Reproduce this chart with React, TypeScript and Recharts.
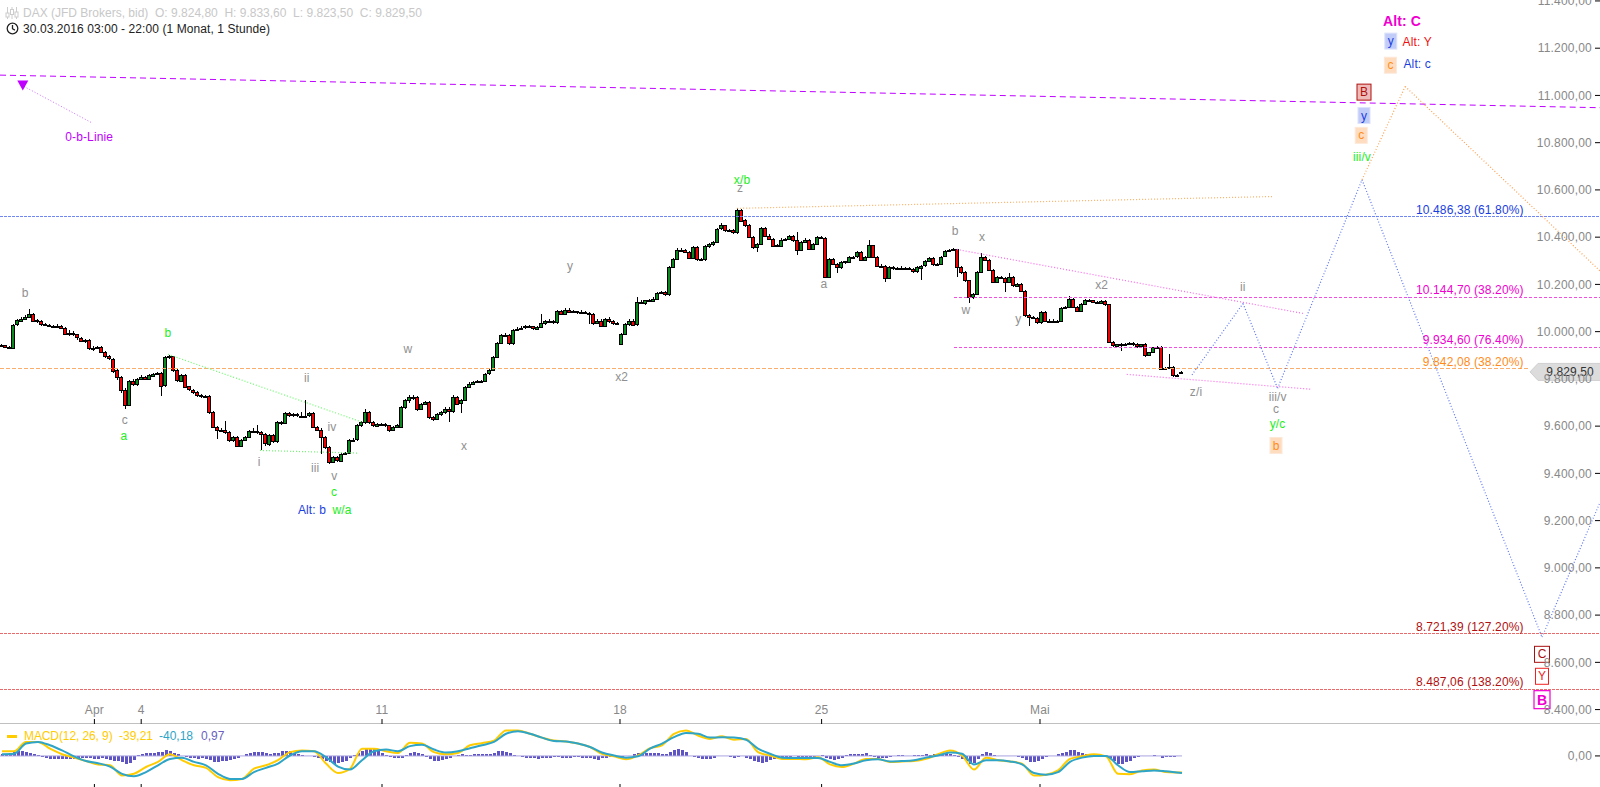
import { Bar, ComposedChart, Line, ReferenceDot, ReferenceLine, XAxis, YAxis } from "recharts";

// hourly candles, one slot = 4px of the 400 slot wide time axis
const opens = [
  9945,9942,9935,9930,10029,10048,10055,10064,10076,
  10048,10045,10033,10028,10025,10022,10026,10016,9991,9994,
  9988,9974,9963,9963,9928,9932,9936,9913,9895,9885,
  9836,9808,9754,9692,9793,9779,9800,9808,9800,9815,
  9822,9825,9772,9892,9895,9836,9793,9818,9768,9754,
  9744,9730,9726,9727,9660,9596,9582,9582,9575,9540,
  9554,9518,9542,9554,9579,9578,9575,9565,9525,9561,
  9537,9617,9613,9655,9645,9650,9645,9642,9645,9655,
  9596,9585,9554,9511,9448,9469,9455,9483,9486,9540,
  9542,9603,9617,9660,9617,9603,9610,9607,9603,9582,9596,
  9596,9681,9709,9723,9723,9673,9695,9702,9638,9631,
  9652,9659,9673,9664,9723,9695,9709,9765,9779,9786,
  9791,9791,9822,9836,9892,9951,9984,9984,9951,10008,
  10012,10016,10022,10022,10012,10019,10036,10045,10045,10040,
  10087,10076,10093,10086,10086,10080,10083,10080,10076,10040,
  10047,10026,10054,10045,10036,9949,9991,10033,10047,10030,
  10125,10121,10132,10132,10139,10163,10167,10158,10273,10308,
  10347,10344,10337,10313,10358,10308,10304,10361,10369,10379,
  10436,10450,10428,10431,10421,10516,10471,10450,10400,10358,
  10372,10440,10407,10393,10365,10365,10390,10393,10404,10386,
  10344,10379,10389,10351,10372,10400,10397,10231,10309,10287,
  10273,10294,10297,10318,10318,10337,10304,10316,10365,10316,
  10280,10280,10228,10273,10269,10269,10269,10269,10266,10256,
  10273,10280,10299,10313,10287,10287,10318,10341,10344,10348,
  10273,10252,10217,10146,10160,10252,10316,10304,10262,10210,
  10231,10227,10210,10231,10196,10203,10172,10069,10062,10059,
  10040,10083,10045,10047,10047,10045,10101,10104,10139,10104,
  10087,10118,10135,10132,10125,10121,10129,10115,9956,9942,
  9949,9946,9949,9952,9946,9939,9946,9899,9913,9935,
  9935,9843,9846,9850,9815,9824.8,
];
const highs = [
  9948,9945,9938,10032,10055,10062,10072,10097,10080,
  10055,10048,10036,10032,10030,10032,10030,10020,10005,10002,
  9992,9978,9970,9968,9938,9941,9940,9916,9900,9890,
  9840,9812,9760,9795,9798,9803,9815,9812,9820,9826,
  9830,9830,9895,9900,9898,9840,9822,9822,9772,9758,
  9748,9734,9732,9730,9664,9600,9592,9620,9580,9558,
  9558,9545,9558,9582,9590,9606,9580,9570,9568,9565,
  9620,9622,9658,9660,9655,9655,9660,9709,9660,9660,
  9600,9590,9558,9515,9472,9474,9487,9490,9545,9548,
  9608,9622,9674,9662,9622,9615,9614,9612,9606,9600,9610,
  9685,9715,9730,9730,9726,9700,9708,9708,9642,9656,
  9665,9680,9680,9730,9728,9715,9770,9785,9792,9795,
  9796,9826,9840,9896,9955,9990,9995,9988,10012,10020,
  10025,10028,10028,10024,10024,10076,10050,10052,10050,10092,
  10092,10098,10098,10092,10088,10090,10086,10084,10078,10055,
  10052,10058,10060,10050,10040,9995,10038,10055,10052,10146,
  10135,10136,10140,10146,10168,10172,10172,10278,10312,10352,
  10352,10348,10340,10362,10362,10312,10365,10374,10385,10440,
  10458,10452,10436,10434,10522,10520,10475,10455,10404,10376,
  10445,10444,10412,10398,10370,10395,10397,10408,10408,10421,
  10385,10395,10392,10376,10404,10404,10400,10312,10312,10292,
  10298,10300,10322,10322,10342,10340,10320,10386,10368,10320,
  10285,10284,10276,10278,10274,10278,10272,10272,10270,10276,
  10284,10304,10318,10316,10292,10322,10345,10348,10352,10350,
  10276,10256,10220,10165,10256,10333,10320,10308,10266,10235,
  10236,10232,10248,10235,10208,10208,10175,10074,10068,10063,
  10088,10086,10052,10052,10050,10104,10108,10153,10142,10110,
  10122,10140,10140,10136,10130,10132,10133,10118,9960,9948,
  9954,9952,9955,9956,9950,9949,9950,9905,9918,9940,
  9938,9850,9906,9854,9820,9833.6,
];
const lows = [
  9938,9930,9926,9932,10024,10040,10048,10060,10040,
  10036,10025,10022,10018,10016,10018,10010,9985,9982,9980,
  9965,9955,9952,9922,9918,9928,9908,9890,9878,9826,
  9795,9740,9674,9685,9770,9770,9795,9795,9795,9812,
  9818,9727,9765,9885,9830,9785,9785,9760,9748,9738,
  9725,9720,9720,9652,9590,9547,9575,9568,9532,9532,
  9510,9512,9538,9550,9570,9568,9497,9518,9518,9530,
  9530,9606,9608,9640,9640,9638,9636,9636,9640,9590,
  9580,9483,9505,9440,9442,9448,9450,9478,9480,9535,
  9538,9596,9610,9610,9596,9598,9600,9596,9575,9578,9590,
  9590,9672,9700,9712,9665,9668,9688,9630,9622,9625,
  9645,9652,9617,9655,9690,9655,9705,9760,9775,9782,
  9785,9786,9816,9832,9888,9946,9978,9945,9945,10002,
  10006,10010,10015,10005,10006,10014,10030,10038,10034,10034,
  10070,10070,10080,10080,10074,10075,10074,10034,10030,10034,
  10020,10020,10038,10030,10028,9945,9986,10026,10024,10024,
  10115,10114,10126,10126,10134,10158,10149,10149,10268,10302,
  10338,10332,10306,10308,10300,10298,10298,10355,10364,10374,
  10430,10422,10424,10415,10415,10465,10445,10395,10350,10337,
  10366,10400,10386,10360,10360,10360,10385,10388,10380,10323,
  10340,10374,10345,10346,10366,10392,10226,10225,10282,10248,
  10266,10288,10292,10312,10312,10298,10300,10310,10310,10275,
  10275,10210,10222,10262,10264,10264,10264,10262,10250,10250,
  10217,10275,10295,10280,10282,10282,10314,10337,10340,10231,
  10246,10210,10121,10140,10155,10248,10298,10256,10205,10205,
  10222,10167,10205,10190,10196,10166,10062,10022,10052,10034,
  10034,10040,10040,10040,10040,10040,10096,10098,10100,10082,
  10082,10112,10125,10120,10116,10118,10110,9950,9936,9936,
  9918,9940,9944,9938,9932,9936,9892,9895,9908,9928,
  9838,9838,9840,9808,9810,9823.5,
];
const closes = [
  9942,9935,9930,10029,10048,10055,10064,10076,10048,
  10045,10033,10028,10025,10022,10026,10016,9991,9994,9988,
  9974,9963,9963,9928,9932,9936,9913,9895,9885,9836,
  9808,9754,9692,9793,9779,9800,9808,9800,9815,9822,
  9825,9772,9892,9895,9836,9793,9818,9768,9754,9744,
  9730,9726,9727,9660,9596,9582,9582,9575,9540,9554,
  9518,9542,9554,9579,9578,9575,9565,9525,9561,9537,
  9617,9613,9655,9645,9650,9645,9642,9645,9655,9596,
  9585,9554,9511,9448,9469,9455,9483,9486,9540,9542,
  9603,9617,9660,9617,9603,9610,9607,9603,9582,9596,9603,
  9681,9709,9723,9723,9673,9695,9702,9638,9631,9652,
  9659,9673,9664,9723,9695,9709,9765,9779,9786,9791,
  9791,9822,9836,9892,9951,9984,9984,9951,10008,10012,
  10016,10022,10022,10012,10019,10036,10045,10045,10040,10087,
  10076,10093,10086,10086,10080,10083,10080,10076,10040,10047,
  10026,10054,10045,10036,10036,9991,10033,10047,10030,10125,
  10121,10132,10132,10139,10163,10167,10158,10273,10308,10347,
  10344,10337,10313,10358,10308,10304,10361,10369,10379,10436,
  10450,10428,10431,10421,10516,10471,10450,10400,10358,10372,
  10440,10407,10393,10365,10365,10390,10393,10404,10386,10344,
  10379,10389,10351,10372,10400,10397,10231,10309,10287,10273,
  10294,10297,10318,10318,10337,10304,10316,10365,10316,10280,
  10280,10228,10273,10269,10269,10269,10269,10266,10256,10273,
  10280,10299,10313,10287,10287,10318,10341,10344,10348,10273,
  10252,10217,10146,10160,10252,10316,10304,10262,10210,10231,
  10227,10210,10231,10196,10203,10172,10069,10062,10059,10040,
  10083,10045,10047,10047,10045,10101,10104,10139,10104,10087,
  10118,10135,10132,10125,10121,10129,10115,9956,9942,9949,
  9946,9949,9952,9946,9939,9946,9899,9913,9935,9935,
  9843,9846,9850,9815,9815,9829.5,
];

// MACD lines are read every third slot, the last point is the printed value
const macdLine = [
  11,11,33,33,17,4,-4,-12,-20,-22,-46,-42,-26,-14,4,-10,-22,-28,-50,-57,
  -54,-30,-22,-10,9,13,11,-18,-40,-30,17,17,11,7,31,29,9,4,7,25,
  30,36,60,60,52,43,36,34,29,21,5,-1,-8,1,18,25,52,60,48,40,
  46,38,40,9,1,-7,-7,-8,-3,-20,-26,-18,-7,-7,-14,-13,-12,-7,4,13,
  1,-32,-4,-10,-13,-18,-46,-44,-34,-7,-1,4,-1,-42,-43,-34,-32,-38,-39.21,
];
const signalLine = [
  4,5,29,33,25,13,-1,-12,-17,-25,-42,-48,-38,-22,-7,-4,-14,-22,-42,-54,
  -54,-38,-28,-18,1,11,11,-3,-25,-32,-10,11,15,11,23,26,15,8,11,18,
  25,33,52,58,52,43,35,34,29,21,8,1,-4,-1,17,29,44,54,52,43,
  44,43,38,17,5,-4,-5,-5,-5,-14,-22,-18,-10,-8,-13,-12,-10,-4,1,8,
  5,-20,-10,-10,-13,-20,-40,-44,-38,-14,-4,0,0,-22,-38,-36,-34,-36,-40.18,
];
const histogram = [
  4,5,7,10,11,11,10,8,5,2,-3,-6,-7,-7,-8,-8,-7,-7,-7,-6,
  -5,-5,-6,-7,-7,-6,-8,-9,-11,-13,-15,-18,-16,-10,2,5,7,8,8,9,
  10,13,12,8,4,1,-2,-4,-6,-7,-6,-8,-10,-14,-15,-13,-11,-9,-7,-5,
  1,4,8,10,10,9,6,4,6,8,11,12,11,8,5,3,1,0,-2,-5,
  -8,-12,-15,-18,-17,-14,-11,-4,3,8,12,16,19,18,12,7,2,-2,-4,-5,
  -4,2,6,9,8,4,-3,-7,-11,-12,-10,-7,-4,1,3,4,3,2,4,5,
  5,4,5,8,12,12,10,7,3,-1,-3,-5,-6,-6,-7,-6,-5,-4,-3,-3,
  -4,-5,-5,-3,-2,-4,-5,-5,-8,-10,-6,-5,-3,-3,-3,-2,-1,0,5,7,
  7,7,6,6,6,5,5,10,14,17,15,10,1,-2,-5,-8,-8,-7,-5,1,
  1,0,-2,-5,-2,0,-4,-8,-12,-15,-17,-15,-9,-7,-5,-4,-3,-2,-1,-2,
  -3,-4,-2,-3,1,3,-4,-7,-9,-8,-5,3,4,5,5,5,6,3,-2,-4,
  -6,-5,-2,1,2,2,1,1,2,3,3,5,3,4,5,4,6,4,2,-3,
  -8,-13,-18,-16,-8,5,9,8,2,1,-1,-1,1,-1,-2,-6,-10,-14,-14,-11,
  -7,-3,-1,1,4,7,10,14,13,9,6,4,3,2,2,1,1,-6,-13,-20,
  -19,-15,-11,-6,-2,-1,1,0,2,-1,-4,-3,-3,-2,1,0.97,
];

const timeTicks = [23.6, 35.3, 95.5, 155, 205.4, 260];
const timeLabels = ["Apr", "4", "11", "18", "25", "Mai"];
const priceTicks = [11400, 11200, 11000, 10800, 10600, 10400, 10200, 10000, 9800, 9600, 9400, 9200, 9000, 8800, 8600, 8400];

// wave count labels: [text, slot, price]
const grayLabels: [string, number, number][] = [
  ["b", 6.3, 10162], ["c", 31.2, 9628], ["ii", 76.7, 9802], ["iv", 83, 9596], ["i", 64.8, 9448],
  ["iii", 78.8, 9422], ["v", 83.6, 9387], ["w", 102, 9925], ["x", 116, 9518], ["y", 142.5, 10277],
  ["x2", 155.4, 9806], ["z", 185, 10606], ["a", 206, 10200], ["b", 238.8, 10428], ["x", 245.5, 10399],
  ["w", 241.5, 10090], ["y", 254.6, 10052], ["x2", 275.4, 10196], ["ii", 310.7, 10191], ["z/i", 299, 9743],
  ["iii/v", 319.4, 9722], ["c", 319, 9671],
];
const greenLabels: [string, number, number][] = [
  ["a", 31, 9557], ["b", 42, 9994], ["c", 83.5, 9321], ["w/a", 85.5, 9247], ["x/b", 185.5, 10644],
  ["y/c", 319.4, 9609], ["iii/v", 340.5, 10739],
];
const blueLabels: [string, number, number][] = [["Alt: b", 78, 9247], ["Alt: c", 354.3, 11131]];
const redLabels: [string, number, number][] = [["Alt: Y", 354.3, 11228]];
const purpleLabels: [string, number, number][] = [["0-b-Linie", 22.3, 10822]];
const blueBoxes: [string, number, number][] = [["y", 347.7, 11230], ["y", 341, 10915]];
const orangeBoxes: [string, number, number][] = [["c", 347.6, 11128], ["c", 340.3, 10831], ["b", 319, 9518]];

// fibonacci levels: level, first slot, printed text, price of the text
const blueFibs: [number, number, string, number][] = [[10486.38, 0, "10.486,38 (61.80%)", 10515]];
const magentaFibs: [number, number, string, number][] = [
  [10144.7, 238.5, "10.144,70 (38.20%)", 10175],
  [9934.6, 238.5, "9.934,60 (76.40%)", 9963],
];
const redFibs: [number, number, string, number][] = [
  [8721.39, 0, "8.721,39 (127.20%)", 8749],
  [8487.06, 0, "8.487,06 (138.20%)", 8515],
];
const orangeLevel = 9842.08;
const lastPrice = 9829.5;

// trend and projection lines: points are [slot, price]
const zeroBLine: [number, number][] = [[0, 11086], [400, 10948]];
const zeroBPointer: [number, number][] = [[6, 11038], [22.75, 10886]];
const greenUpper: [number, number][] = [[42, 9904], [90.5, 9617]];
const greenLower: [number, number][] = [[65, 9497], [89.3, 9486]];
const orangeTrend: [number, number][] = [[184.3, 10522], [318, 10572]];
const magentaUpper: [number, number][] = [[239.2, 10348], [325.8, 10077]];
const magentaLower: [number, number][] = [[281.7, 9819], [327.8, 9756]];
const blueProjection: [number, number][] = [[298, 9817], [310.75, 10119], [319.4, 9760], [340.5, 10643], [385.5, 8707], [400, 9277]];
const orangeProjection: [number, number][] = [[340.5, 10643], [351.3, 11038], [400, 10257]];

const candleTable = closes.map((close, i) => ({
  slot: i,
  open: opens[i],
  close,
  high: Math.max(highs[i], opens[i], close),
  low: Math.min(lows[i], opens[i], close),
  range: [Math.min(lows[i], opens[i], close), Math.max(highs[i], opens[i], close)],
}));
const histTable = histogram.map((value, i) => ({ slot: i + 0.25, value }));
const lineTable = macdLine.map((macd, i) => ({
  slot: i === macdLine.length - 1 ? 295.5 : i * 3 + 0.5,
  macd,
  signal: signalLine[i],
}));

const FONT = "'Liberation Sans', Arial, sans-serif";
const SPACING = 0.12;

const fmtPrice = (v: number) => v.toLocaleString("de-DE", { minimumFractionDigits: 2, maximumFractionDigits: 2 });

// body and wick of one candle, the bar rectangle spans low to high
const Candle = (props: any) => {
  const { x, y, width, height, payload } = props;
  const perPoint = height / Math.max(payload.high - payload.low, 1);
  const top = y + (payload.high - Math.max(payload.open, payload.close)) * perPoint;
  const bodyH = Math.abs(payload.open - payload.close) * perPoint;
  const mid = Math.round(x + width / 2) + 0.5;
  return (
    <g shapeRendering="crispEdges">
      <line x1={mid + 1} x2={mid + 1} y1={y} y2={y + height} stroke="#000" strokeWidth={1} />
      <rect
        x={mid - 1}
        y={Math.round(top) + 0.5}
        width={3}
        height={Math.max(Math.round(bodyH), 1)}
        fill={payload.close >= payload.open ? "#0a8a1e" : "#f00000"}
        stroke="#000"
        strokeWidth={1}
      />
    </g>
  );
};

// negative values arrive with a negative height
const HistBar = (props: any) => {
  const { x, y, width, height } = props;
  return (
    <rect
      x={Math.round(x)}
      y={Math.min(y, y + height)}
      width={Math.max(Math.round(width), 3)}
      height={Math.abs(height)}
      fill="#5f54c4"
      shapeRendering="crispEdges"
    />
  );
};

const textMark = (text: string, color: string, opts: { anchor?: string; bold?: boolean; size?: number } = {}) => (p: any) => (
  <text
    x={p.cx}
    y={p.cy}
    fill={color}
    fontFamily={FONT}
    fontSize={opts.size ?? 12}
    fontWeight={opts.bold ? 700 : 400}
    textAnchor={opts.anchor ?? "middle"}
    dominantBaseline="central"
    letterSpacing={SPACING}
  >
    {text}
  </text>
);

const boxMark = (text: string, fill: string, stroke: string, color: string, w = 12, h = 16, bold = false, size = 12, sw = 1) => (p: any) => (
  <g>
    <rect x={p.cx - w / 2} y={p.cy - h / 2} width={w} height={h} fill={fill} stroke={stroke} strokeWidth={sw} />
    <text x={p.cx} y={p.cy} fill={color} fontFamily={FONT} fontSize={size} fontWeight={bold ? 700 : 400} textAnchor="middle" dominantBaseline="central">
      {text}
    </text>
  </g>
);

const dotAt = (key: string, slot: number, price: number, shape: any) => (
  <ReferenceDot key={key} x={slot} y={price} r={1} ifOverflow="visible" shape={shape} />
);

const pathLines = (name: string, points: [number, number][], color: string, dash: string, width = 1, crisp = false) =>
  points.slice(1).map((pt, i) => (
    <ReferenceLine
      key={`${name}-${i}`}
      segment={[
        { x: points[i][0], y: points[i][1] },
        { x: pt[0], y: pt[1] },
      ]}
      stroke={color}
      strokeDasharray={dash}
      strokeWidth={width}
      shapeRendering={crisp ? "crispEdges" : undefined}
      ifOverflow="visible"
    />
  ));

const labelGroup = (name: string, rows: [string, number, number][], color: string) =>
  rows.map(([text, slot, price], i) => dotAt(`${name}-${i}`, slot, price, textMark(text, color)));

const fibGroup = (name: string, rows: [number, number, string, number][], color: string, lineColor: string, dash: string) =>
  rows.flatMap(([level, start, text, textPrice], i) => [
    ...pathLines(`${name}-${i}`, [[start, level], [400, level]], lineColor, dash, 1, true),
    dotAt(`${name}-t-${i}`, 380.9, textPrice, textMark(text, color, { anchor: "end" })),
  ]);

const PriceTag = (p: any) => (
  <g>
    <path
      d={`M${p.cx} ${p.cy} L${p.cx + 8} ${p.cy - 8.5} H${p.cx + 72} V${p.cy + 8.5} H${p.cx + 8} Z`}
      fill="#dcdcdc"
      stroke="#cfcfcf"
    />
    <text x={p.cx + 40} y={p.cy} fill="#333" fontFamily={FONT} fontSize={12} textAnchor="middle" dominantBaseline="central" letterSpacing={SPACING}>
      {fmtPrice(lastPrice)}
    </text>
  </g>
);

const DownTriangle = (p: any) => (
  <path d={`M${p.cx - 5.5} ${p.cy - 5} H${p.cx + 5.5} L${p.cx} ${p.cy + 5} Z`} fill="#bf00ff" />
);

const headerStyle: React.CSSProperties = { position: "absolute", fontFamily: FONT, fontSize: 12, whiteSpace: "pre", lineHeight: "14px" };
const axisTick = { fill: "#888", fontFamily: FONT, fontSize: 12, letterSpacing: 0.2 };

export default function App() {
  return (
    <div style={{ position: "absolute", left: 0, top: 0, width: 1600, height: 787, overflow: "hidden", background: "#fff" }}>
      <ComposedChart width={1600} height={724} data={candleTable} margin={{ top: 0, right: 0, bottom: 0, left: 0 }}>
        <XAxis
          dataKey="slot"
          type="number"
          domain={[0, 400]}
          ticks={timeTicks}
          tickFormatter={(v: number) => timeLabels[timeTicks.indexOf(v)]}
          mirror
          tickSize={5}
          tickMargin={5}
          stroke="#808080"
          tickLine={{ stroke: "#000" }}
          tick={axisTick}
          interval={0}
          allowDataOverflow
        />
        <YAxis
          orientation="right"
          mirror
          type="number"
          domain={[8339, 11404]}
          ticks={priceTicks}
          tickFormatter={fmtPrice}
          tickSize={5}
          tickMargin={3}
          axisLine={false}
          tickLine={{ stroke: "#000" }}
          tick={axisTick}
          interval={0}
          allowDataOverflow
        />
        {pathLines("zero-b", zeroBLine, "#bf00ff", "6 4")}
        {pathLines("pointer", zeroBPointer, "#d070ff", "1 2")}
        {pathLines("orange-level", [[0, orangeLevel], [382, orangeLevel]], "#f9ae6e", "4 2", 1, true)}
        {fibGroup("fib-blue", blueFibs, "#1a3ee0", "#7088f0", "3 1")}
        {fibGroup("fib-magenta", magentaFibs, "#f000d0", "#f04ee0", "3 2")}
        {fibGroup("fib-red", redFibs, "#b01010", "#e66c6c", "3 1")}
        {dotAt("fib-orange-text", 380.9, 9871, textMark("9.842,08 (38.20%)", "#ff8c1a", { anchor: "end" }))}
        {pathLines("green-up", greenUpper, "#66ff66", "1 2", 1.2)}
        {pathLines("green-low", greenLower, "#66ff66", "1 2", 1.2)}
        {pathLines("orange-trend", orangeTrend, "#ffae60", "1 2", 1.2)}
        {pathLines("magenta-up", magentaUpper, "#ff66ee", "1 2", 1.2)}
        {pathLines("magenta-low", magentaLower, "#ff66ee", "1 2", 1.2)}
        {pathLines("blue-proj", blueProjection, "#6078f0", "1 2", 1.2)}
        {pathLines("orange-proj", orangeProjection, "#ffa050", "1 2", 1.2)}
        <Bar dataKey="range" barSize={3} isAnimationActive={false} shape={<Candle />} />
        {labelGroup("gray", grayLabels, "#909090")}
        {labelGroup("green", greenLabels, "#22ee22")}
        {labelGroup("blue", blueLabels, "#1a3ee0")}
        {labelGroup("red", redLabels, "#f01010")}
        {labelGroup("purple", purpleLabels, "#bf00ff")}
        {blueBoxes.map(([t, s, p], i) => dotAt(`bb-${i}`, s, p, boxMark(t, "#c2ccf8", "#dde3fb", "#2040e0")))}
        {orangeBoxes.map(([t, s, p], i) => dotAt(`ob-${i}`, s, p, boxMark(t, "#fddcc0", "#fde8d8", "#ff8c1a")))}
        {dotAt("alt-c", 350.5, 11317, textMark("Alt: C", "#f000d0", { bold: true, size: 14 }))}
        {dotAt("box-b", 341, 11014, boxMark("B", "#eebcb8", "#b01010", "#b01010", 14, 16))}
        {dotAt("box-c2", 385.5, 8634, boxMark("C", "#fff", "#a81010", "#a81010", 15, 16))}
        {dotAt("box-y2", 385.5, 8541, boxMark("Y", "#fff", "#f02020", "#f02020", 13, 16))}
        {dotAt("box-b2", 385.5, 8442, boxMark("B", "#fff", "#f000d0", "#f000d0", 16, 18, true, 14, 1.2))}
        {dotAt("triangle", 5.7, 11042, DownTriangle)}
        {dotAt("last-price", 382.5, lastPrice, PriceTag)}
      </ComposedChart>
      <div style={{ position: "absolute", left: 0, top: 724 }}>
        <ComposedChart width={1600} height={63} data={histTable} margin={{ top: 0, right: 0, bottom: 0, left: 0 }}>
          <XAxis
            dataKey="slot"
            type="number"
            domain={[0, 400]}
            ticks={timeTicks}
            tickFormatter={() => ""}
            mirror
            tickSize={3}
            axisLine={false}
            tickLine={{ stroke: "#000" }}
            interval={0}
            allowDataOverflow
          />
          <YAxis
            orientation="right"
            mirror
            type="number"
            domain={[-73, 75]}
            ticks={[0]}
            tickFormatter={fmtPrice}
            tickSize={5}
            tickMargin={3}
            axisLine={false}
            tickLine={{ stroke: "#000" }}
            tick={axisTick}
            allowDataOverflow
          />
          {pathLines("macd-zero", [[0, 0], [295.5, 0]], "#aaa4e2", "", 1)}
          <Bar dataKey="value" barSize={4} isAnimationActive={false} shape={<HistBar />} />
          <Line data={lineTable} dataKey="macd" type="monotone" stroke="#ffcc00" strokeWidth={2} dot={false} isAnimationActive={false} />
          <Line data={lineTable} dataKey="signal" type="monotone" stroke="#2ea4c7" strokeWidth={2} dot={false} isAnimationActive={false} />
        </ComposedChart>
      </div>

      <svg style={{ position: "absolute", left: 5, top: 6 }} width={14} height={14} viewBox="0 0 14 14" fill="none" stroke="#ccc">
        <path d="M2.5 1v12M7 1v12M11.5 1v12" />
        <rect x="1" y="7" width="3" height="4" fill="#fff" />
        <rect x="5.5" y="3.5" width="3" height="5" fill="#fff" />
        <rect x="10" y="6" width="3" height="5" fill="#fff" />
      </svg>
      <div style={{ ...headerStyle, left: 23, top: 6, color: "#c8c8c8" }}>DAX (JFD Brokers, bid)  O: 9.824,80  H: 9.833,60  L: 9.823,50  C: 9.829,50</div>
      <svg style={{ position: "absolute", left: 6, top: 22 }} width={13} height={13} viewBox="0 0 13 13" fill="none" stroke="#222" strokeWidth={1.3}>
        <circle cx="6.5" cy="6.5" r="5.3" />
        <path d="M6.5 3v3.7l2.4 1.4" />
      </svg>
      <div style={{ ...headerStyle, left: 23, top: 22, color: "#222", letterSpacing: 0.08 }}>30.03.2016 03:00 - 22:00 (1 Monat, 1 Stunde)</div>

      <div style={{ position: "absolute", left: 7, top: 735, width: 10, height: 3, background: "#ffcc00" }} />
      <div style={{ ...headerStyle, left: 24, top: 729, color: "#ffcc00", letterSpacing: -0.1 }}>MACD(12, 26, 9)</div>
      <div style={{ ...headerStyle, left: 119, top: 729, color: "#ffcc00" }}>-39,21</div>
      <div style={{ ...headerStyle, left: 159, top: 729, color: "#2ea4c7" }}>-40,18</div>
      <div style={{ ...headerStyle, left: 201, top: 729, color: "#6a5fc1" }}>0,97</div>
    </div>
  );
}
